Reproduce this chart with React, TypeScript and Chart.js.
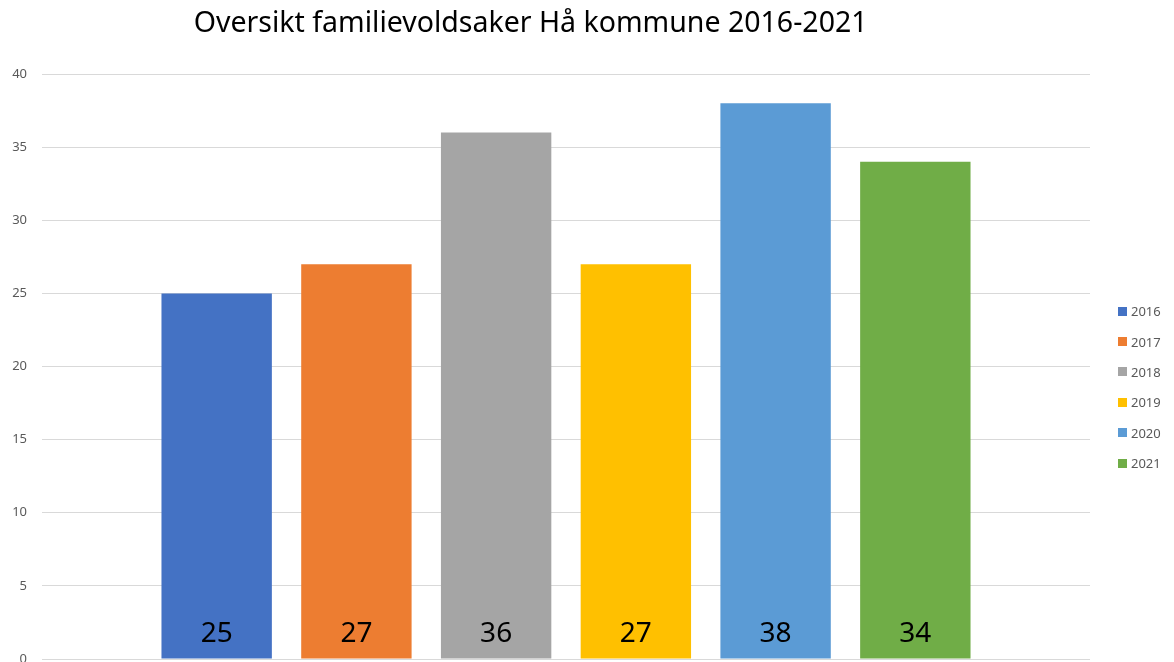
import React, { useEffect, useRef } from "react";
import { Chart, registerables } from "chart.js";

Chart.register(...registerables);

const TITLE = "Oversikt familievoldsaker Hå kommune 2016-2021";
const CATEGORIES = [""];
const YEARS = ["2016", "2017", "2018", "2019", "2020", "2021"];
const VALUES = [25, 27, 36, 27, 38, 34];
const COLORS = ["#4472C4", "#ED7D31", "#A5A5A5", "#FFC000", "#5B9BD5", "#70AD47"];
const Y_MIN = 0;
const Y_MAX = 40;
const Y_STEP = 5;

const FONT = "'Noto Sans', 'Open Sans', sans-serif";

const titlePlugin = {
  id: "customTitle",
  afterDraw(chart: any) {
    const ctx = chart.ctx;
    ctx.save();
    ctx.font = `28.5px ${FONT}`;
    ctx.fillStyle = "#000000";
    ctx.textAlign = "center";
    ctx.textBaseline = "middle";
    ctx.fillText(TITLE, chart.width * 0.452, 24);
    ctx.restore();
  },
};

const valueLabelPlugin = {
  id: "valueLabels",
  afterDatasetsDraw(chart: any) {
    const ctx = chart.ctx;
    const yScale = chart.scales.y;
    const base = yScale.getPixelForValue(0);
    ctx.save();
    ctx.font = `28px ${FONT}`;
    ctx.fillStyle = "#000000";
    ctx.textAlign = "center";
    ctx.textBaseline = "middle";
    chart.data.datasets.forEach((ds: any, i: number) => {
      const meta = chart.getDatasetMeta(i);
      meta.data.forEach((bar: any, j: number) => {
        ctx.fillText(String(ds.data[j]), bar.x, base - 25);
      });
    });
    ctx.restore();
  },
};

export default function App() {
  const canvasRef = useRef<HTMLCanvasElement | null>(null);

  useEffect(() => {
    if (!canvasRef.current) return;
    const chart = new Chart(canvasRef.current, {
      type: "bar",
      data: {
        labels: CATEGORIES,
        datasets: YEARS.map((y, i) => ({
          label: y,
          data: [VALUES[i]],
          backgroundColor: COLORS[i],
          borderWidth: 0,
          categoryPercentage: 0.8,
          barPercentage: 0.79,
        })),
      },
      options: {
        animation: false,
        responsive: false,
        maintainAspectRatio: false,
        layout: { padding: { top: 74, bottom: 3, left: 0, right: 84 } },
        plugins: {
          legend: { display: false },
          title: { display: false },
          tooltip: { enabled: false },
        },
        scales: {
          x: { display: false },
          y: {
            min: Y_MIN,
            max: Y_MAX,
            afterFit: (scale: any) => {
              scale.width = 42;
              scale.paddingTop = 0;
              scale.paddingBottom = 0;
            },
            ticks: {
              stepSize: Y_STEP,
              padding: 15,
              color: "#595959",
              font: { family: FONT, size: 13 },
            },
            grid: { color: "#D9D9D9", lineWidth: 1, drawTicks: false },
            border: { display: false },
          },
        },
      },
      plugins: [titlePlugin, valueLabelPlugin],
    });
    return () => chart.destroy();
  }, []);

  return (
    <div style={{ position: "fixed", left: 0, top: 0, width: 1174, height: 662, background: "#fff" }}>
      <canvas ref={canvasRef} width={1174} height={662} style={{ display: "block" }} />
      <div style={{ position: "absolute", left: 1118, top: 296, fontFamily: FONT, fontSize: 13, color: "#595959" }}>
        {YEARS.map((y, i) => (
          <div key={y} style={{ height: 30.4, display: "flex", alignItems: "center" }}>
            <span style={{ display: "inline-block", width: 9, height: 9, background: COLORS[i], marginRight: 4 }} />
            <span>{y}</span>
          </div>
        ))}
      </div>
    </div>
  );
}
